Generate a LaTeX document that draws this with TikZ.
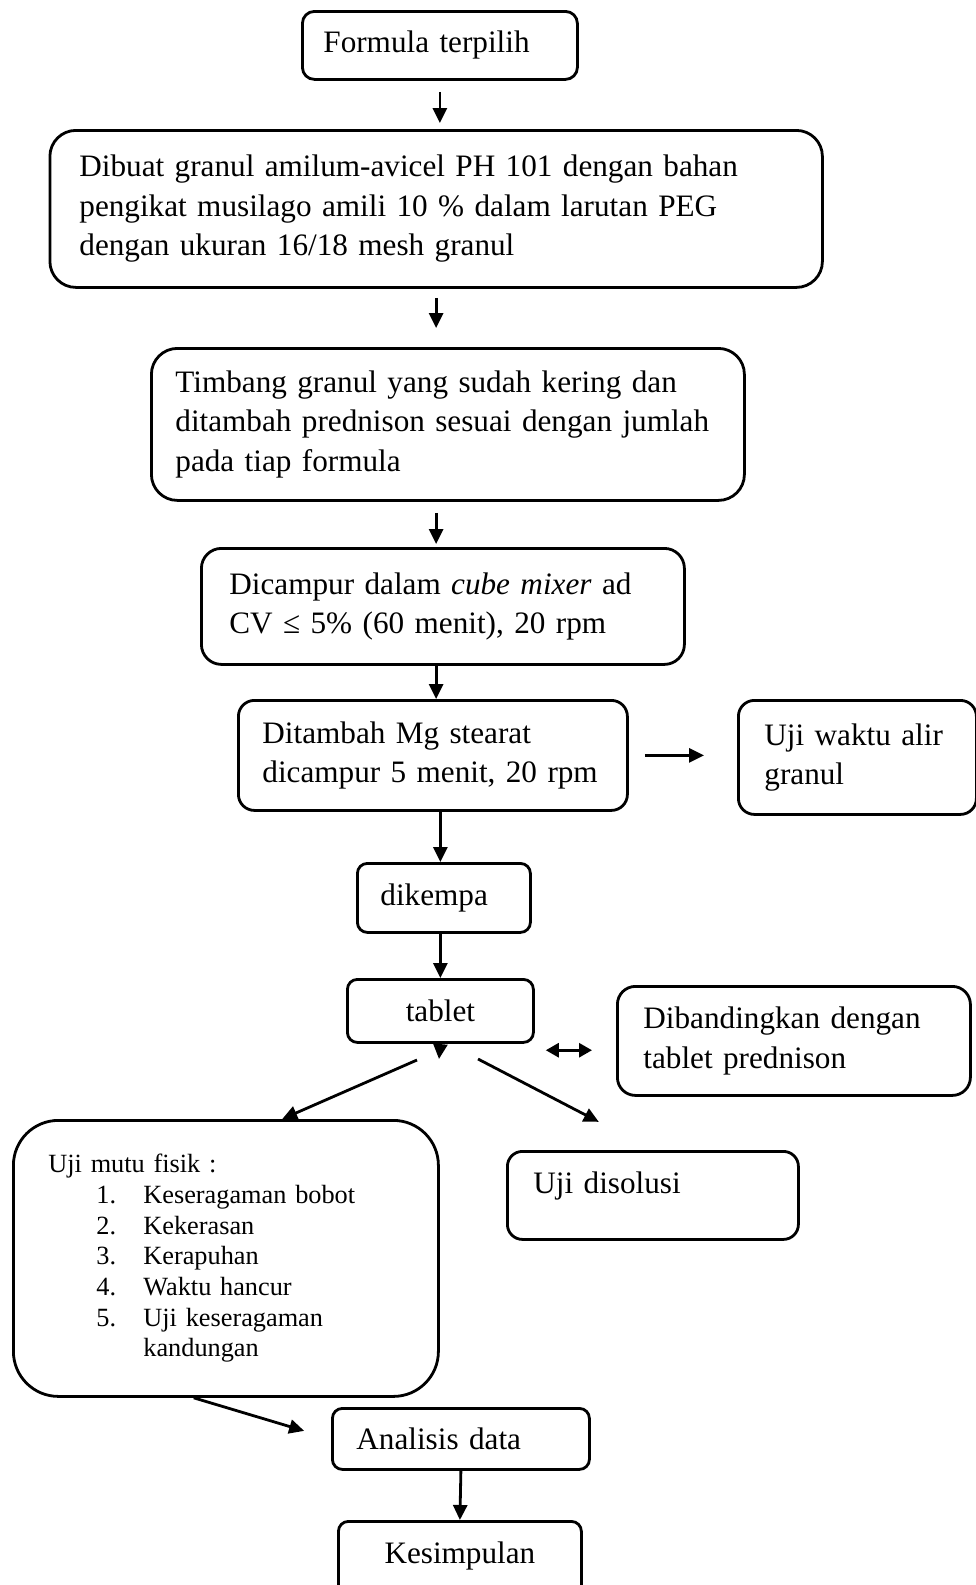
\documentclass[tikz,border=0pt]{standalone}
\usepackage{fontspec}
\setmainfont{Liberation Serif}
\usetikzlibrary{arrows.meta,positioning,calc}
\tikzset{every node/.style={font=\fontsize{31.2}{39.5}\selectfont},
 procbox/.style={draw=black,line width=2.8pt,rounded corners=12pt,anchor=north west,align=left,inner ysep=0pt},
 flow/.style={-{Triangle[length=15pt,width=14pt]},draw=black,line width=2.8pt},
 flowboth/.style={{Triangle[length=13pt,width=14pt]}-{Triangle[length=13pt,width=14pt]},draw=black,line width=2.8pt}}

\begin{document}
\begin{tikzpicture}[x=1pt,y=-1pt]

\useasboundingbox (0,0) rectangle (976,1585);
\node[procbox,text width=233pt,inner xsep=21pt,minimum height=68pt] (form) at (301,10) {Formula terpilih};
\node[procbox,rounded corners=26pt,text width=713.5pt,inner xsep=29.5pt,minimum height=157pt] (gran) at (48.5,129)
 {Dibuat granul amilum-avicel PH 101 dengan bahan\\pengikat musilago amili 10 \% dalam larutan PEG\\dengan ukuran 16/18 mesh granul};
\node[procbox,rounded corners=26pt,text width=545pt,inner xsep=24pt,minimum height=152pt] (timb) at (150,347)
 {Timbang granul yang sudah kering dan\\ditambah prednison sesuai dengan jumlah\\pada tiap formula};
\node[procbox,rounded corners=20pt,text width=427pt,inner xsep=28pt,minimum height=116pt] (camp) at (200,547)
 {Dicampur dalam \textit{cube mixer} ad\\CV ≤ 5\% (60 menit), 20 rpm};
\node[procbox,rounded corners=16pt,text width=351pt,inner xsep=19pt,minimum height=110pt] (mgst) at (237,699)
 {\hspace*{5pt}Ditambah Mg stearat\\\hspace*{5pt}dicampur 5 menit, 20 rpm};
\node[procbox,rounded corners=16pt,text width=186pt,inner xsep=26pt,minimum height=114pt] (alir) at (737,699)
 {Uji waktu alir\\granul};
\node[procbox,rounded corners=10pt,text width=127pt,inner xsep=23pt,minimum height=69pt] (kempa) at (356,862) {dikempa};
\node[procbox,rounded corners=10pt,align=center,text width=166pt,inner xsep=10pt,minimum height=63pt] (tab) at (346,978) {tablet};
\node[procbox,rounded corners=18pt,text width=301pt,inner xsep=26pt,minimum height=109pt] (band) at (616,985)
 {Dibandingkan dengan\\tablet prednison};
\node[procbox,rounded corners=45pt,text width=355pt,inner xsep=35pt,minimum height=276pt,
 font=\fontsize{26.3}{30.7}\selectfont] (mutu) at (12,1119)
 {Uji mutu fisik :\\
 \hspace*{48pt}\makebox[47pt][l]{1.}Keseragaman bobot\\
 \hspace*{48pt}\makebox[47pt][l]{2.}Kekerasan\\
 \hspace*{48pt}\makebox[47pt][l]{3.}Kerapuhan\\
 \hspace*{48pt}\makebox[47pt][l]{4.}Waktu hancur\\
 \hspace*{48pt}\makebox[47pt][l]{5.}Uji keseragaman\\
 \hspace*{95pt}kandungan};
\node[procbox,rounded corners=15pt,text width=239pt,inner xsep=26pt,minimum height=88pt,text depth=25pt] (diso) at (506,1150) {Uji disolusi};
\node[procbox,rounded corners=10pt,text width=209pt,inner xsep=24pt,minimum height=61pt] (ana) at (331,1407) {Analisis data};
\node[procbox,rounded corners=10pt,align=center,text width=223pt,inner xsep=10pt,minimum height=80pt,text depth=17pt] (kes) at (337,1520) {Kesimpulan};

\coordinate (spl) at (439,1059);
\coordinate (sl) at (417,1060);
\coordinate (sr) at (478,1059);

\draw[flow,shorten <=11pt,shorten >=6pt] (form.south) -- (form.south |- gran.north);
\draw[flow,shorten <=9pt,shorten >=19pt] (gran.south) -- (gran.south |- timb.north);
\draw[flow,shorten <=11pt,shorten >=3pt] (gran.south |- timb.south) -- (gran.south |- camp.north);
\draw[flow] (gran.south |- camp.south) -- (gran.south |- mgst.north);
\draw[flow,shorten <=16pt,shorten >=33pt] (mgst.east) -- (mgst.east -| alir.west);
\draw[flow] (tab.north |- mgst.south) -- (tab.north |- kempa.north);
\draw[flow] (tab.north |- kempa.south) -- (tab.north);
\draw[flow] (tab.south) -- (spl);
\draw[flowboth,shorten <=11pt,shorten >=24pt] (band.183 -| tab.east) -- (band.183);
\draw[flow] (sl) -- (mutu.68);
\draw[flow,shorten >=61pt] (sr) -- (diso.north);
\draw[flow,shorten >=28pt] (mutu.257) -- (ana.west);
\draw[flow] (ana.south) -- (kes.north);

\end{tikzpicture}
\end{document}
